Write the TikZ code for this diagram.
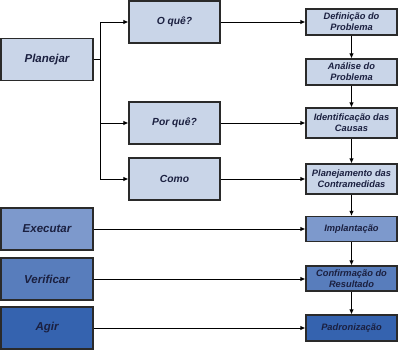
\documentclass[tikz,border=0pt]{standalone}
\usepackage{fontspec}
\setmainfont{Liberation Sans}
\usetikzlibrary{arrows.meta}
\definecolor{lightbox}{HTML}{C9D5E8}
\definecolor{exebox}{HTML}{7D99CC}
\definecolor{verbox}{HTML}{587DBC}
\definecolor{agibox}{HTML}{3563AF}
\definecolor{txt}{HTML}{1B2040}
\definecolor{edge}{HTML}{2A2A2A}
\begin{document}
\begin{tikzpicture}[x=1pt,y=-1pt,
  box/.style={draw=edge,line width=1.2pt,inner sep=0pt,align=center,text=txt,
    font=\bfseries\itshape},
  leftbox/.style={box,minimum width=92pt,minimum height=42pt,font=\bfseries\itshape\fontsize{11.5}{13}\selectfont},
  midbox/.style={box,minimum width=91pt,minimum height=42pt,fill=lightbox,font=\bfseries\itshape\fontsize{10.3}{12}\selectfont},
  rbox/.style={box,minimum width=91pt,font=\bfseries\itshape\fontsize{9.3}{11}\selectfont},
  arr/.style={draw=black,line width=1pt,-{Latex[length=5pt,width=4.5pt]}},
  ln/.style={draw=black,line width=1pt}]
\useasboundingbox (0,0) rectangle (400,351);
% left column
\node[leftbox,fill=lightbox] (plan) at (47,59.5) {Planejar};
\node[leftbox,fill=exebox] (exe) at (47,229) {Executar};
\node[leftbox,fill=verbox] (ver) at (47,279) {Verificar};
\node[leftbox,fill=agibox] (agi) at (47,328) {Agir};
% middle column
\node[midbox] (oque) at (174.5,22) {O quê?};
\node[midbox] (porque) at (174.5,123) {Por quê?};
\node[midbox] (como) at (174.5,179) {Como};
% right column
\node[rbox,fill=lightbox,minimum height=26pt] (def) at (351.5,22) {Definição do\\Problema};
\node[rbox,fill=lightbox,minimum height=26pt] (ana) at (351.5,72) {Análise do\\Problema};
\node[rbox,fill=lightbox,minimum height=30pt] (ide) at (351.5,123) {Identificação das\\Causas};
\node[rbox,fill=lightbox,minimum height=30pt] (pla) at (351.5,179) {Planejamento das\\Contramedidas};
\node[rbox,fill=exebox,minimum height=25pt] (imp) at (351.5,229) {Implantação};
\node[rbox,fill=verbox,minimum height=25pt] (con) at (351.5,278.5) {Confirmação do\\Resultado};
\node[rbox,fill=agibox,minimum height=26pt] (pad) at (351.5,328) {Padronização};
% branch
\coordinate (bj) at (100,59.5);
\coordinate (bt) at (100,22);
\coordinate (bb) at (100,179);
\draw[ln] (plan.east) -- (bj);
\draw[ln] (bt) -- (bb);
\draw[arr] (bt) -- (oque.west);
\draw[arr] (bj |- porque) -- (porque.west);
\draw[arr] (bb) -- (como.west);
% middle to right
\draw[arr] (oque.east) -- (def.west);
\draw[arr] (porque.east) -- (ide.west);
\draw[arr] (como.east) -- (pla.west);
\draw[arr] (exe.east) -- (imp.west);
\draw[arr] (ver.east) -- (con.west |- ver.east);
\draw[arr] (agi.east) -- (pad.west);
% vertical chain
\draw[arr] (def) -- (ana);
\draw[arr] (ana) -- (ide);
\draw[arr] (ide) -- (pla);
\draw[arr] (pla) -- (imp);
\draw[arr] (imp) -- (con);
\draw[arr] (con) -- (pad);
\end{tikzpicture}
\end{document}
